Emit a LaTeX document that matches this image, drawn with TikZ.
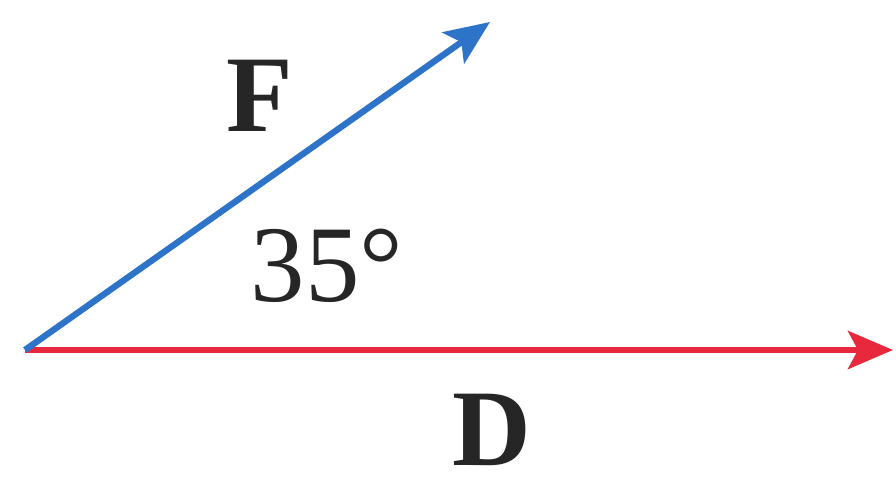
\documentclass[tikz,border=0pt]{standalone}
\usepackage{fontspec}
\setmainfont{Liberation Serif}
\usetikzlibrary{arrows.meta,calc,positioning}
\definecolor{fblue}{RGB}{45,115,200}
\definecolor{dred}{RGB}{232,40,60}
\tikzset{vec/.style={-{Stealth[length=4.5mm, width=3.8mm, inset=1mm]}, line width=1.8pt},
  lab/.style={font=\fontsize{31}{36}\selectfont, inner sep=0pt, text=black!85}}

\begin{document}
\begin{tikzpicture}
  \useasboundingbox (0,0) rectangle (8.96,4.8);
  \coordinate (o) at (0.25,1.30);
  \coordinate (d) at (8.93,1.30);
  \coordinate (f) at (4.90,4.58);
  % displacement, along the ground
  \draw[vec, dred] (o) -- (d);
  % force, 35 degrees up
  \draw[vec, fblue] (o) -- (f);
  \node[lab] (flab) at (2.60,3.84) {\textbf{F}};
  \node[lab] (dlab) at (4.92,0.50) {\textbf{D}};
  \node[lab] (ang) at (3.27,2.14) {35°};
\end{tikzpicture}
\end{document}
